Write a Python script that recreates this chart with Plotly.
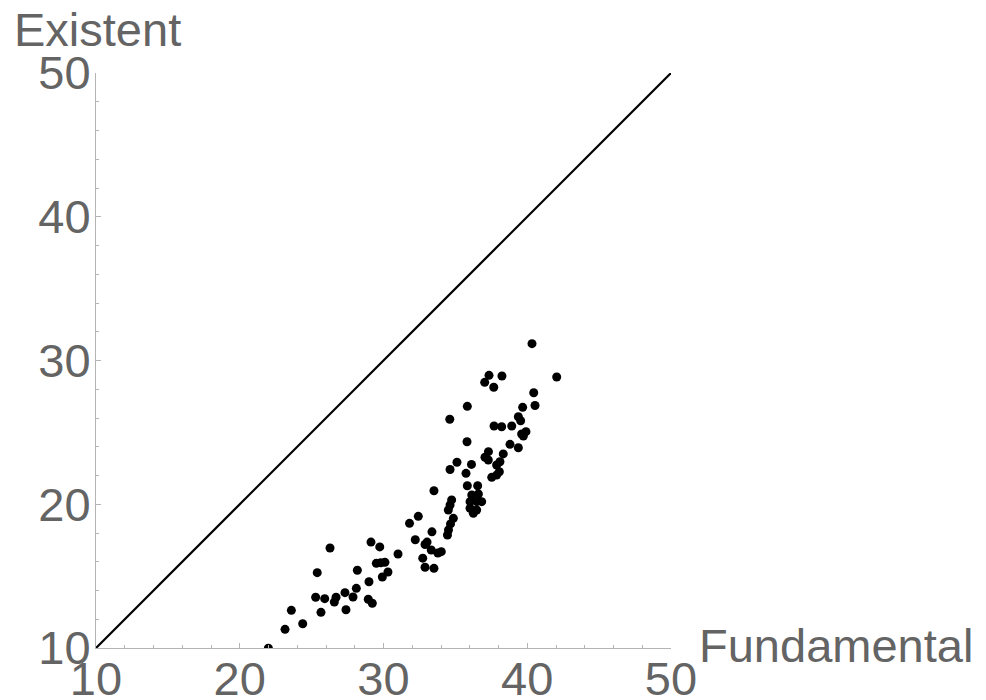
import plotly.graph_objects as go

# Data
fundamental = [21.99, 23.15, 23.59, 24.38, 25.28, 25.65, 25.39, 26.28, 25.91, 26.58,
               26.70, 27.39, 27.32, 27.88, 28.11, 28.18, 28.99, 28.94, 29.22, 29.13,
               29.74, 29.50, 29.81, 30.10, 30.31, 29.92, 31.01, 31.81, 32.42, 32.21,
               32.89, 33.03, 33.37, 33.32, 33.78, 34.02, 32.73, 32.89, 33.51, 34.86,
               34.66, 34.52, 34.45, 34.74, 34.63, 34.51, 33.51, 34.63, 35.74, 35.83,
               36.55, 36.14, 36.60, 36.02, 36.48, 36.83, 36.02, 36.48, 36.25, 38.06,
               37.87, 37.53, 35.11, 34.61, 35.83, 35.81, 36.12, 37.06, 37.29, 37.30,
               38.33, 38.10, 37.87, 38.80, 39.38, 37.69, 38.22, 38.92, 39.61, 39.91,
               39.73, 39.38, 39.54, 39.68, 40.54, 40.45, 42.05, 40.33, 37.34, 38.24,
               37.04, 37.67]
existent = [9.98, 11.30, 12.62, 11.69, 13.53, 12.48, 15.24, 16.96, 13.43, 13.20,
            13.53, 12.66, 13.85, 13.55, 14.15, 15.41, 14.61, 13.39, 13.11, 17.37,
            17.03, 15.89, 15.93, 15.96, 15.29, 14.94, 16.54, 18.67, 19.16, 17.53,
            17.20, 17.37, 18.08, 16.82, 16.61, 16.70, 16.25, 15.62, 15.54, 19.02,
            18.63, 18.21, 17.86, 20.30, 19.95, 19.60, 20.94, 22.42, 22.15, 21.29,
            21.29, 20.64, 20.71, 20.18, 20.18, 20.18, 19.72, 19.60, 19.37, 22.26,
            22.03, 21.87, 22.92, 25.91, 26.81, 24.35, 22.77, 23.27, 23.08, 23.66,
            23.50, 22.96, 22.73, 24.17, 23.93, 25.44, 25.39, 25.44, 24.89, 25.05,
            24.75, 26.09, 25.81, 26.74, 26.87, 27.76, 28.85, 31.17, 28.97, 28.92,
            28.48, 28.14]
ref_line = [10, 50]
tick_vals = [10, 20, 30, 40, 50]
tick_text = ["10", "20", "30", "40", "50"]
x_title = "Fundamental"
y_title = "Existent"

TEXT = "#646464"
AXIS = "#b4b4b4"
FONT = "Liberation Sans, Arial, sans-serif"

fig = go.Figure()
fig.add_trace(go.Scatter(x=ref_line, y=ref_line, mode="lines",
                         line=dict(color="black", width=2.2),
                         hoverinfo="skip", showlegend=False))
fig.add_trace(go.Scatter(x=fundamental, y=existent, mode="markers",
                         marker=dict(color="black", size=9),
                         showlegend=False))

axis_common = dict(
    range=[10, 50], showgrid=False, zeroline=False, automargin=False,
    showline=True, linecolor=AXIS, linewidth=1,
    ticks="inside", ticklen=5, tickcolor=AXIS, tickwidth=1,
    tickvals=tick_vals, ticktext=tick_text,
    tickfont=dict(family=FONT, size=47, color=TEXT),
    minor=dict(dtick=2, tick0=10, ticks="inside", ticklen=3,
               tickcolor=AXIS, tickwidth=1, showgrid=False),
)

fig.update_layout(
    width=978, height=692,
    margin=dict(l=88, r=315, t=65, b=52),
    paper_bgcolor="white", plot_bgcolor="white",
    xaxis=dict(**axis_common, ticklabelstandoff=-10),
    yaxis=dict(**axis_common, ticklabelstandoff=-5),
    annotations=[
        dict(text=x_title, xref="paper", yref="paper", x=1.045, y=0.005,
             xanchor="left", yanchor="middle", showarrow=False,
             font=dict(family=FONT, size=47, color=TEXT)),
        dict(text=y_title, xref="paper", yref="paper", x=-0.146, y=1.075,
             xanchor="left", yanchor="middle", showarrow=False,
             font=dict(family=FONT, size=47, color=TEXT)),
    ],
)

fig.write_html("out.html")
